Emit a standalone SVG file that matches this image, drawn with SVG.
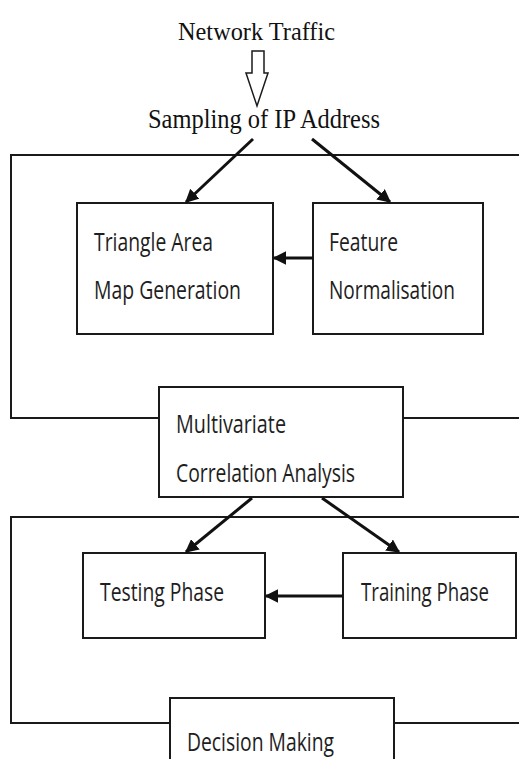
<svg xmlns="http://www.w3.org/2000/svg" width="519" height="759" viewBox="0 0 519 759">
  <style>
    .box { fill: #ffffff; stroke: #1a1a1a; stroke-width: 2; }
    .frame { fill: none; stroke: #1a1a1a; stroke-width: 2; }
    .conn { fill: none; stroke: #111111; stroke-width: 3; marker-end: url(#head); }
    .serif { font-family: "Liberation Serif", "Times New Roman", serif; fill: #111111; }
    .label { font-family: "Open Sans", "Liberation Sans", Arial, sans-serif; font-size: 25px; fill: #1e1e1e; }
  </style>
  <defs>
    <marker id="head" viewBox="0 0 10 10" refX="9" refY="5" markerWidth="4.5" markerHeight="4.5" orient="auto" markerUnits="strokeWidth">
      <path d="M0,0 L10,5 L0,10 Z" fill="#111111"/>
    </marker>
  </defs>
  <rect width="519" height="759" fill="#ffffff"/>

  <!-- title and input -->
  <g id="network-traffic">
    <text class="serif" x="178" y="40" font-size="26" textLength="157" lengthAdjust="spacingAndGlyphs">Network Traffic</text>
  </g>
  <g id="input-arrow">
    <path d="M252,51 L264,51 L264,73 L268,73 L257,106 L246,73 L252,73 Z" fill="#ffffff" stroke="#1a1a1a" stroke-width="1.5" stroke-linejoin="miter"/>
  </g>
  <g id="sampling">
    <text class="serif" x="148" y="128" font-size="28" textLength="232" lengthAdjust="spacingAndGlyphs">Sampling of IP Address</text>
  </g>

  <!-- enclosing frames -->
  <g id="frames">
    <path class="frame" d="M519,155 L11,155 L11,418 L160,418 M403,418 L519,418"/>
    <path class="frame" d="M519,517 L11,517 L11,723 L170,723 M394,723 L519,723"/>
  </g>

  <!-- process nodes -->
  <g id="triangle-area">
    <rect class="box" x="77" y="203" width="196" height="131"/>
    <text class="label" x="94" y="251" textLength="119" lengthAdjust="spacingAndGlyphs">Triangle Area</text>
    <text class="label" x="94" y="299" textLength="147" lengthAdjust="spacingAndGlyphs">Map Generation</text>
  </g>
  <g id="feature-normalisation">
    <rect class="box" x="313" y="203" width="170" height="131"/>
    <text class="label" x="329" y="251" textLength="69" lengthAdjust="spacingAndGlyphs">Feature</text>
    <text class="label" x="329" y="299" textLength="126" lengthAdjust="spacingAndGlyphs">Normalisation</text>
  </g>
  <g id="correlation-analysis">
    <rect class="box" x="159" y="387" width="244" height="110"/>
    <text class="label" x="176" y="433" textLength="110" lengthAdjust="spacingAndGlyphs">Multivariate</text>
    <text class="label" x="176" y="482" textLength="179" lengthAdjust="spacingAndGlyphs">Correlation Analysis</text>
  </g>
  <g id="testing-phase">
    <rect class="box" x="83" y="553" width="182" height="85"/>
    <text class="label" x="100" y="601" textLength="124" lengthAdjust="spacingAndGlyphs">Testing Phase</text>
  </g>
  <g id="training-phase">
    <rect class="box" x="343" y="553" width="173" height="85"/>
    <text class="label" x="361" y="601" textLength="128" lengthAdjust="spacingAndGlyphs">Training Phase</text>
  </g>
  <g id="decision-making">
    <rect class="box" x="170" y="698" width="224" height="70"/>
    <text class="label" x="187" y="751" textLength="147" lengthAdjust="spacingAndGlyphs">Decision Making</text>
  </g>

  <!-- connectors -->
  <g id="connectors">
    <line class="conn" x1="253" y1="139" x2="186" y2="202"/>
    <line class="conn" x1="312" y1="139" x2="390" y2="202"/>
    <line class="conn" x1="313" y1="258" x2="274" y2="258"/>
    <line class="conn" x1="252" y1="498" x2="186" y2="552"/>
    <line class="conn" x1="322" y1="498" x2="399" y2="552"/>
    <line class="conn" x1="343" y1="596" x2="266" y2="596"/>
  </g>
</svg>
